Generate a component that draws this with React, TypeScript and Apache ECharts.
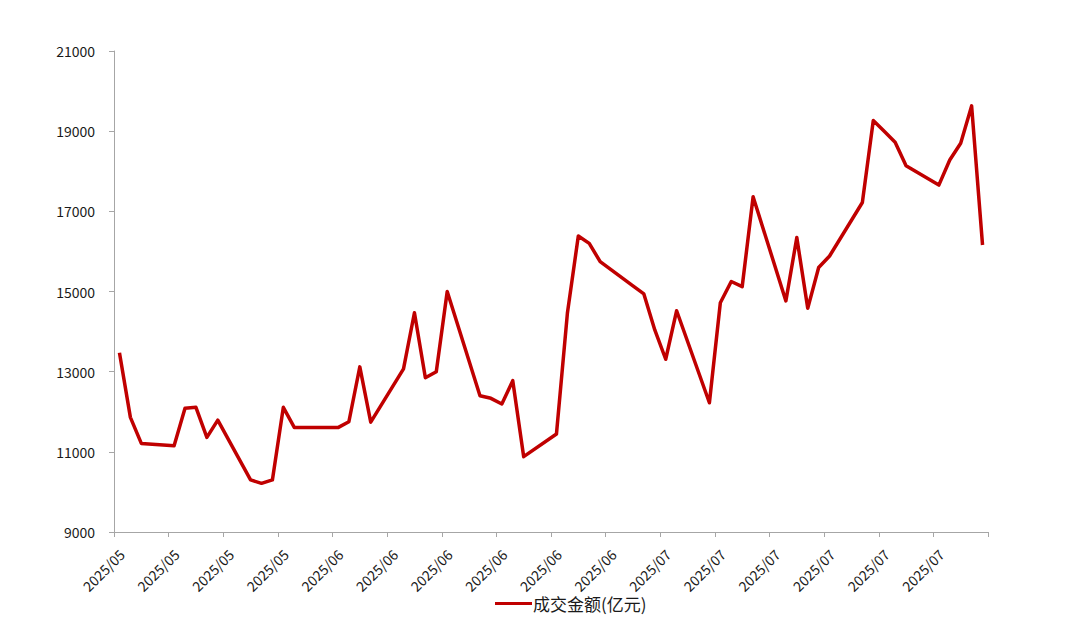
import React, { useEffect, useRef } from "react";
import * as echarts from "echarts";

const START_DATE = "2025-05-14";
const AXIS_DAYS = 80;

const dates: string[] = [
  "2025-05-14", "2025-05-15", "2025-05-16", "2025-05-19", "2025-05-20", "2025-05-21", "2025-05-22", "2025-05-23",
  "2025-05-26", "2025-05-27", "2025-05-28", "2025-05-29", "2025-05-30",
  "2025-06-03", "2025-06-04", "2025-06-05", "2025-06-06",
  "2025-06-09", "2025-06-10", "2025-06-11", "2025-06-12", "2025-06-13",
  "2025-06-16", "2025-06-17", "2025-06-18", "2025-06-19", "2025-06-20",
  "2025-06-23", "2025-06-24", "2025-06-25", "2025-06-26", "2025-06-27",
  "2025-06-30", "2025-07-01", "2025-07-02", "2025-07-03", "2025-07-04",
  "2025-07-07", "2025-07-08", "2025-07-09", "2025-07-10", "2025-07-11",
  "2025-07-14", "2025-07-15", "2025-07-16", "2025-07-17", "2025-07-18",
  "2025-07-21", "2025-07-22", "2025-07-23", "2025-07-24", "2025-07-25",
  "2025-07-28", "2025-07-29", "2025-07-30", "2025-07-31", "2025-08-01",
];

const turnover: number[] = [
  13470, 11860, 11210, 11150, 12090, 12110, 11360, 11790,
  10300, 10215, 10300, 12110, 11610,
  11605, 11750, 13120, 11740,
  13070, 14470, 12850, 13000, 15000,
  12400, 12335, 12195, 12775, 10880,
  11445, 14455, 16385, 16200, 15745,
  15140, 14940, 14040, 13310, 14520,
  12225, 14720, 15250, 15120, 17365,
  14765, 16345, 14580, 15600, 15885,
  17220, 19265, 19000, 18725, 18135,
  17655, 18280, 18700, 19630, 16160,
];

const yTicks = { min: 9000, max: 21000, interval: 2000 };
const seriesName = "成交金额(亿元)";

const DAY_MS = 86400000;
const startMs = Date.parse(START_DATE + "T00:00:00Z");
const dayIndex = (d: string) => Math.round((Date.parse(d + "T00:00:00Z") - startMs) / DAY_MS);

export default function App() {
  const ref = useRef<HTMLDivElement>(null);
  useEffect(() => {
    if (!ref.current) return;
    const chart = echarts.init(ref.current, null, { renderer: "svg" });
    const font = "'Noto Sans CJK SC', 'Noto Sans', sans-serif";
    chart.setOption({
      animation: false,
      backgroundColor: "#ffffff",
      textStyle: { fontFamily: font },
      grid: { left: 114, right: 92, top: 51, bottom: 90, containLabel: false },
      legend: {
        data: [seriesName],
        left: 495,
        top: 595,
        padding: 0,
        icon: "rect",
        itemWidth: 37,
        itemHeight: 3,
        itemGap: 4,
        textStyle: { fontSize: 17, color: "#1a1a1a", fontFamily: font, padding: [0, 0, 0, -4] },
      },
      xAxis: {
        type: "value",
        min: 0,
        max: AXIS_DAYS,
        interval: 5,
        axisLine: { show: true, lineStyle: { color: "#A6A6A6", width: 1 } },
        axisTick: { show: true, length: 5, lineStyle: { color: "#A6A6A6" } },
        splitLine: { show: false },
        axisLabel: {
          rotate: 45,
          fontSize: 14,
          color: "#1a1a1a",
          margin: 12,
          verticalAlign: "top",
          padding: [4, 0, 0, 0],
          fontFamily: font,
          formatter: (v: number) => {
            if (v >= AXIS_DAYS) return "";
            const d = new Date(startMs + v * DAY_MS);
            const mm = String(d.getUTCMonth() + 1).padStart(2, "0");
            return `${d.getUTCFullYear()}/${mm}`;
          },
        },
      },
      yAxis: {
        type: "value",
        min: yTicks.min,
        max: yTicks.max,
        interval: yTicks.interval,
        axisLine: { show: true, lineStyle: { color: "#A6A6A6", width: 1 } },
        axisTick: { show: true, length: 5, lineStyle: { color: "#A6A6A6" } },
        splitLine: { show: false },
        axisLabel: {
          fontSize: 14,
          color: "#1a1a1a",
          margin: 19,
          fontFamily: font,
          formatter: (v: number) => String(v),
        },
      },
      series: [
        {
          name: seriesName,
          type: "line",
          data: dates.map((d, i) => [dayIndex(d) + 0.5, turnover[i]]),
          showSymbol: false,
          symbol: "none",
          lineStyle: { color: "#C00000", width: 3.5, join: "round" },
          itemStyle: { color: "#C00000" },
        },
      ],
    });
    return () => chart.dispose();
  }, []);
  return (
    <div
      ref={ref}
      style={{ position: "absolute", left: 0, top: 0, width: 1080, height: 622 }}
    />
  );
}
